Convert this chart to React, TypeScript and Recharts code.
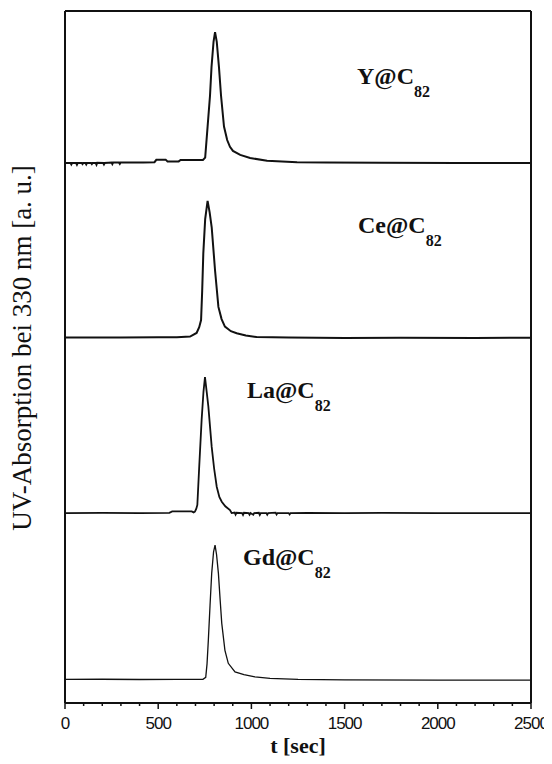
import { LineChart, Line, XAxis, YAxis, ReferenceLine } from 'recharts'

// chromatogram traces: [time in sec, relative absorption]
const yC82: [number, number][] = [
  [0, 0], [30, 0], [34, -0.01], [38, 0], [60, 0], [64, -0.012], [68, 0], [90, 0], [94, -0.008], [98, 0],
  [110, 0], [114, -0.01], [118, 0], [140, 0], [144, -0.008], [148, 0], [165, 0], [169, -0.012],
  [173, 0.002], [205, 0], [209, -0.01], [213, 0], [250, 0.003], [254, -0.008], [258, 0.003], [290, 0.003],
  [294, -0.006], [298, 0.004], [420, 0.004], [480, 0.006], [490, 0.024], [540, 0.025], [550, 0.012],
  [610, 0.012], [620, 0.022], [740, 0.022], [752, 0.04], [765, 0.27], [778, 0.5], [786, 0.71], [797, 0.9],
  [805, 0.97], [814, 0.9], [826, 0.71], [837, 0.5], [853, 0.27], [870, 0.17], [885, 0.12], [901, 0.09],
  [940, 0.06], [993, 0.037], [1084, 0.017], [1245, 0.005], [1400, 0.003], [1700, 0.002], [2100, 0], [2500, 0],
]

const ceC82: [number, number][] = [
  [0, 0.004], [300, 0.003], [500, 0.005], [600, 0.006], [671, 0.01], [706, 0.037], [720, 0.08], [730, 0.133],
  [736, 0.35], [742, 0.627], [752, 0.88], [765, 1.015], [776, 0.93], [787, 0.82], [805, 0.5],
  [823, 0.23], [840, 0.14], [858, 0.084], [890, 0.05], [921, 0.035], [970, 0.018], [1028, 0.007],
  [1200, 0.003], [1500, 0], [1800, 0.002], [2200, 0], [2500, 0.002],
]

const laC82: [number, number][] = [
  [0, 0], [200, 0.002], [400, 0], [560, 0.002], [575, 0.012], [680, 0.012], [690, 0.005], [697, 0.01],
  [704, 0.03], [710, 0.06], [720, 0.343], [733, 0.69], [743, 0.9], [751, 1.008], [760, 0.9], [769, 0.79],
  [787, 0.49], [800, 0.33], [814, 0.195], [828, 0.12], [841, 0.084], [860, 0.05], [885, 0.022], [894, 0],
  [910, 0.004], [915, -0.012], [920, 0.002], [950, 0], [955, -0.014], [960, 0.002], [985, 0], [990, -0.012],
  [995, 0], [1010, -0.012], [1015, 0], [1040, 0.002], [1045, -0.014], [1050, 0], [1080, 0], [1085, -0.012],
  [1090, 0], [1130, 0.003], [1135, -0.01], [1140, 0], [1200, 0], [1205, -0.01], [1210, 0], [1300, 0.002],
  [1500, 0], [1700, 0.002], [2000, 0], [2500, 0],
]

const gdC82: [number, number][] = [
  [0, 0.005], [200, 0.006], [400, 0.004], [600, 0.005], [740, 0.006], [755, 0.02], [762, 0.12], [769, 0.296],
  [778, 0.55], [787, 0.79], [797, 0.95], [805, 1.0], [813, 0.93], [823, 0.79], [832, 0.6], [841, 0.42],
  [858, 0.22], [876, 0.124], [912, 0.06], [960, 0.04], [1019, 0.024], [1100, 0.012], [1250, 0.005],
  [1500, 0.002], [2000, 0], [2500, 0],
]

// vertical offset of each trace's baseline
const offsets = { y: 4.0, ce: 2.704, la: 1.407, gd: 0.17 }
const Y_MAX = 5.126
const X_MAX = 2500

const xTicks = Array.from({ length: 26 }, (_, i) => i * 100)

const toRows = (pts: [number, number][], off: number) => pts.map(([t, v]) => ({ t, v: v + off }))

const serif = '"Liberation Serif", "Times New Roman", serif'

const XTick = ({ x, y, payload }: any) => {
  const major = payload.value % 500 === 0
  return (
    <g>
      <line x1={x} x2={x} y1={y} y2={y + (major ? 6 : 3)} stroke="#111" strokeWidth={1.5} />
      {major && (
        <text x={x} y={y + 26} textAnchor="middle" fontSize={17} letterSpacing={-1}
          fontFamily='"Liberation Sans", Arial, sans-serif' fill="#111">
          {payload.value}
        </text>
      )}
    </g>
  )
}

const Compound = ({ x, y, el }: { x: number; y: number; el: string }) => (
  <text x={x} y={y} fontFamily={serif} fontWeight="bold" fontSize={24} fill="#111">
    {el}@C<tspan dy={13} fontSize={16}>82</tspan>
  </text>
)

export default function App() {
  return (
    <div>
      <style>{'body { overflow: hidden; }'}</style>
      <LineChart width={544} height={756} margin={{ top: 3, right: 21, left: 57, bottom: 31 }}>
        <XAxis dataKey="t" type="number" domain={[0, X_MAX]} ticks={xTicks} interval={0}
          tick={<XTick />} tickLine={false} tickSize={0} tickMargin={0} height={30}
          axisLine={{ stroke: '#111', strokeWidth: 2 }} allowDataOverflow />
        <YAxis hide type="number" domain={[0, Y_MAX]} allowDataOverflow />
        <ReferenceLine x={0} stroke="#111" strokeWidth={2} />
        <ReferenceLine x={X_MAX} stroke="#111" strokeWidth={2} />
        <ReferenceLine y={Y_MAX} stroke="#111" strokeWidth={2} />
        <Line data={toRows(yC82, offsets.y)} dataKey="v" type="linear" stroke="#111" strokeWidth={2}
          dot={false} isAnimationActive={false} />
        <Line data={toRows(ceC82, offsets.ce)} dataKey="v" type="linear" stroke="#111" strokeWidth={2}
          dot={false} isAnimationActive={false} />
        <Line data={toRows(laC82, offsets.la)} dataKey="v" type="linear" stroke="#111" strokeWidth={1.8}
          dot={false} isAnimationActive={false} />
        <Line data={toRows(gdC82, offsets.gd)} dataKey="v" type="linear" stroke="#111" strokeWidth={1.3}
          dot={false} isAnimationActive={false} />

        <Compound x={349} y={76} el="Y" />
        <Compound x={350} y={225} el="Ce" />
        <Compound x={239} y={390} el="La" />
        <Compound x={235} y={557} el="Gd" />

        <text x={23} y={340} transform="rotate(-90 23 340)" textAnchor="middle" fontFamily={serif}
          fontSize={27} fill="#111">
          UV-Absorption bei 330 nm [a. u.]
        </text>
        <text x={290} y={745} textAnchor="middle" fontFamily={serif} fontWeight="bold" fontSize={22} fill="#111">
          t [sec]
        </text>
      </LineChart>
    </div>
  )
}
